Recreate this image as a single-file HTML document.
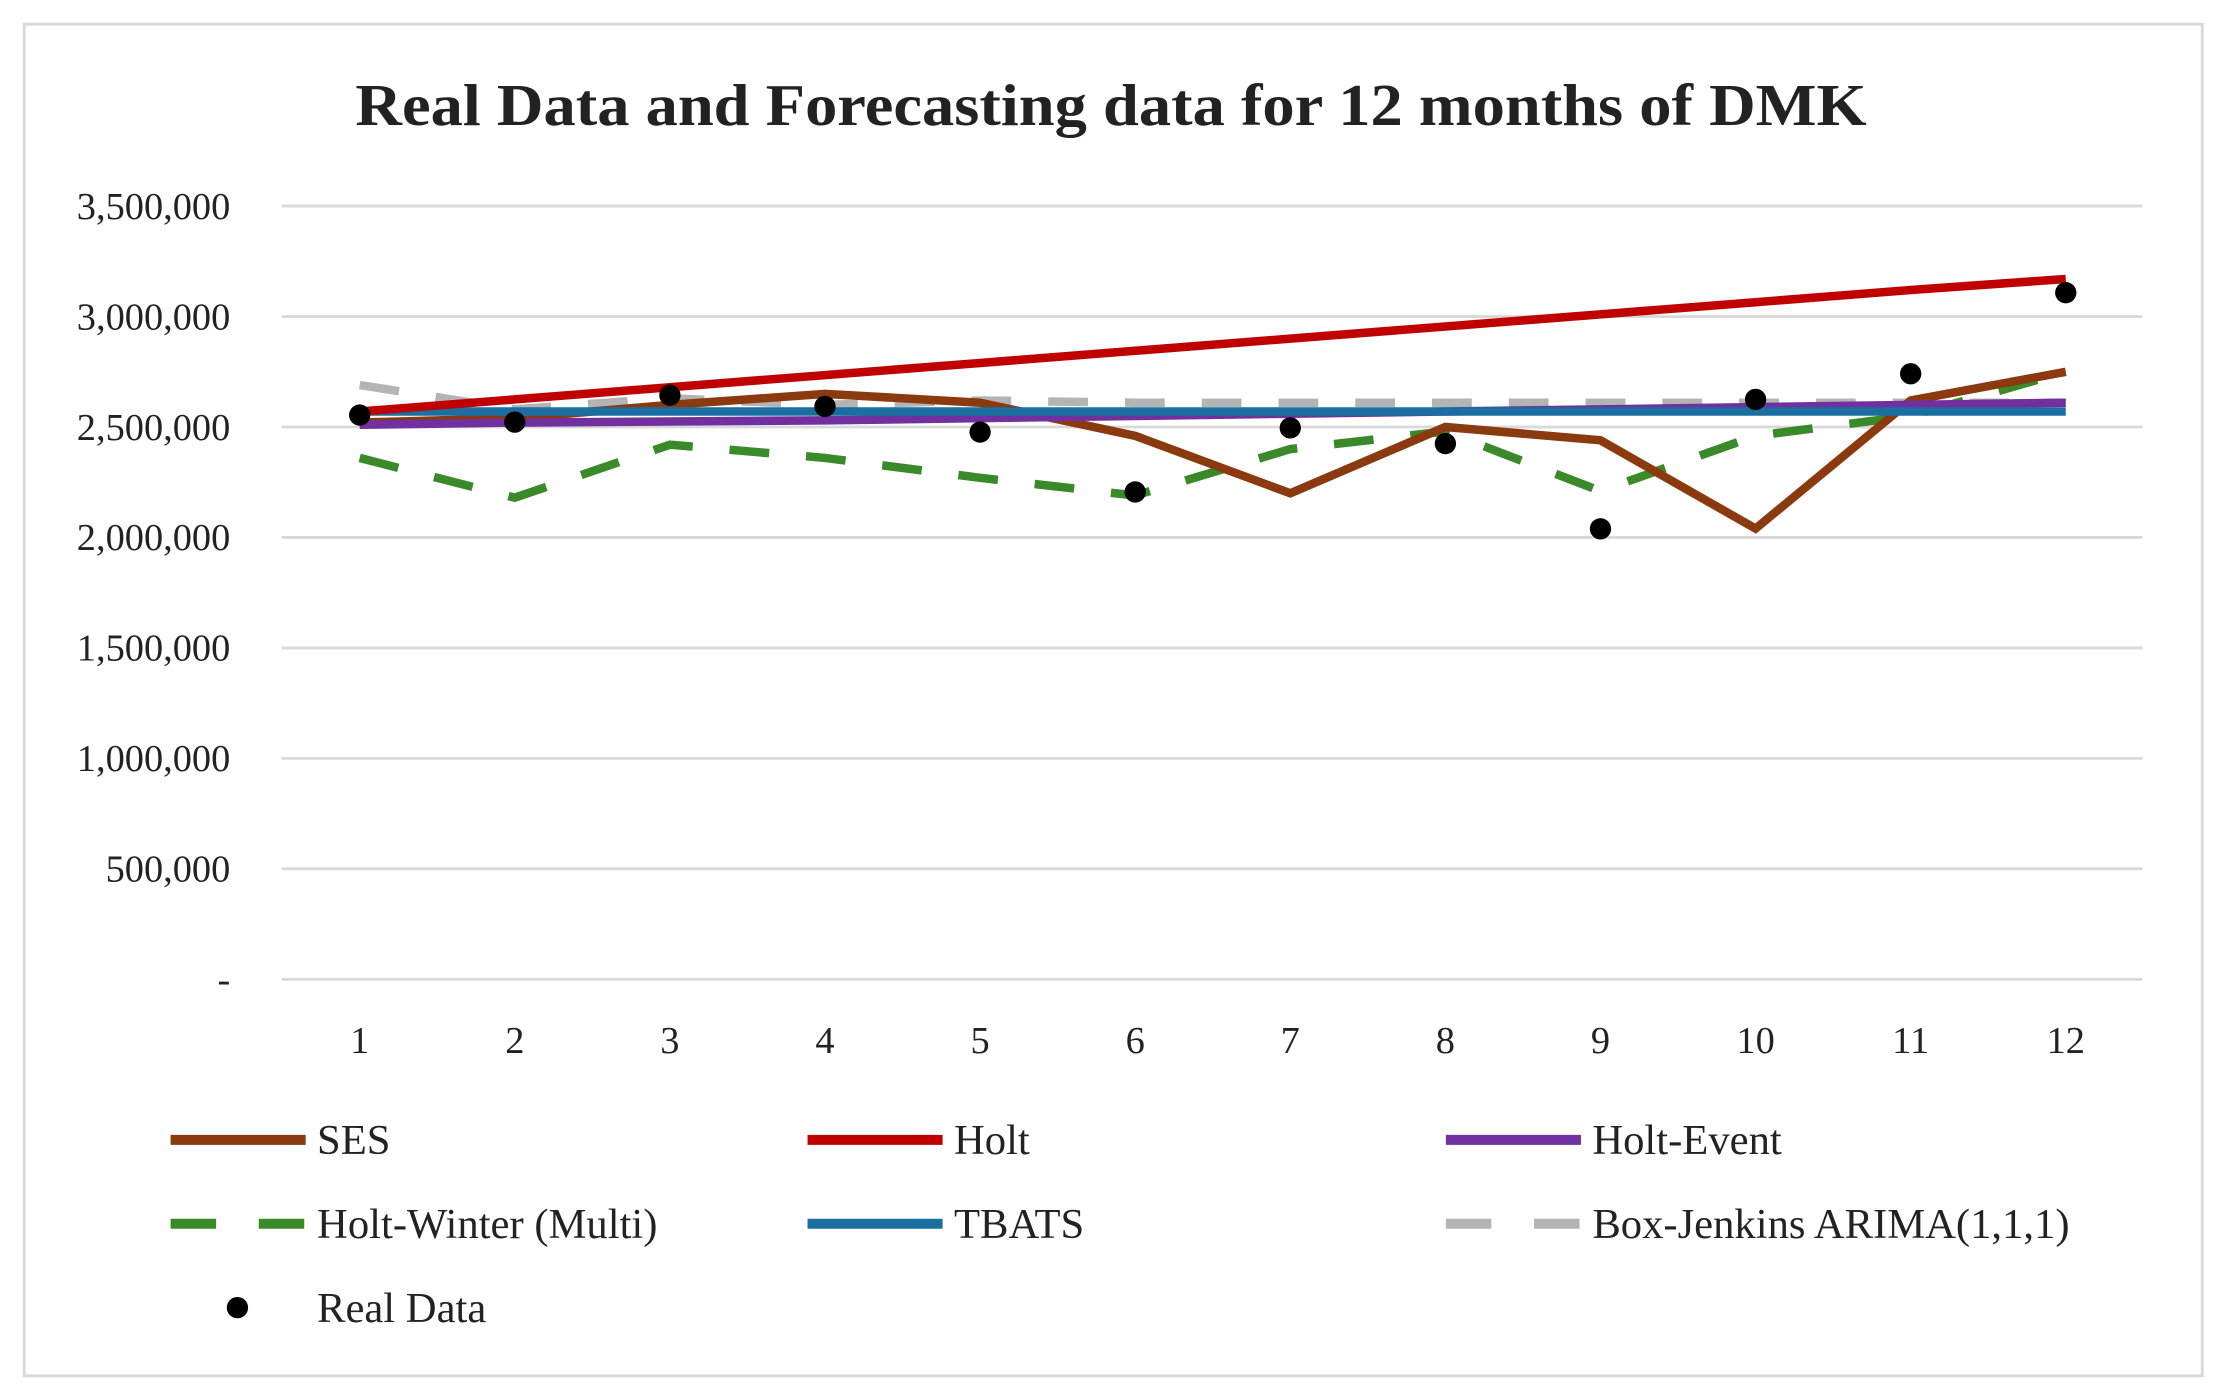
<!DOCTYPE html>
<html><head><meta charset="utf-8"><style>
html,body{margin:0;padding:0;background:#fff;}
svg{display:block;}
text{font-family:"Liberation Serif",serif;fill:#222;}
</style></head><body>
<svg id="chart" width="2225" height="1400" viewBox="0 0 1565 985" preserveAspectRatio="none" xmlns="http://www.w3.org/2000/svg">
<rect x="17" y="17" width="1532" height="951" fill="#fff" stroke="#d9d9d9" stroke-width="2"/>
<text x="250" y="88" textLength="1063" lengthAdjust="spacingAndGlyphs" font-size="42" font-weight="bold">Real Data and Forecasting data for 12 months of DMK</text>
<g id="grid"></g><g id="series"></g><g id="legend"></g>
</svg>
<script>
const months=[1,2,3,4,5,6,7,8,9,10,11,12];
const yTicks=[0,500000,1000000,1500000,2000000,2500000,3000000,3500000];
const yTickLabels=["-","500,000","1,000,000","1,500,000","2,000,000","2,500,000","3,000,000","3,500,000"];
const ses=[2520000,2540000,2600000,2650000,2610000,2460000,2200000,2500000,2440000,2040000,2620000,2750000];
const holt=[2570000,2625000,2680000,2735000,2790000,2845000,2900000,2955000,3010000,3065000,3120000,3170000];
const holtEvent=[2510000,2520000,2525000,2530000,2540000,2550000,2560000,2570000,2580000,2590000,2600000,2610000];
const holtWinter=[2360000,2180000,2420000,2360000,2270000,2190000,2400000,2480000,2210000,2460000,2550000,2750000];
const tbats=[2570000,2570000,2570000,2570000,2570000,2570000,2570000,2570000,2570000,2570000,2570000,2570000];
const arima=[2690000,2580000,2630000,2600000,2620000,2610000,2610000,2610000,2610000,2610000,2610000,2610000];
const realData=[2554000,2522000,2644000,2593000,2477000,2206000,2496000,2425000,2039000,2625000,2741000,3108000];

const NS="http://www.w3.org/2000/svg";
const x=m=>253+(m-1)*(1453-253)/11;
const y=v=>689-v*(689-145)/3500000;
function mk(tag,attrs,parent){const e=document.createElementNS(NS,tag);for(const k in attrs)e.setAttribute(k,attrs[k]);parent.appendChild(e);return e;}
const grid=document.getElementById('grid'),ser=document.getElementById('series'),leg=document.getElementById('legend');
yTicks.forEach((t,i)=>{
  const l=mk('line',{x1:198,x2:1507,y1:y(t),y2:y(t),stroke:'#d9d9d9','stroke-width':2},grid);
  
  
  const tx=mk('text',{x:162,y:y(t)+9,'text-anchor':'end','font-size':27},grid);
  tx.textContent=yTickLabels[i];
  
  
});
months.forEach(m=>{
  const tx=mk('text',{x:x(m),y:741,'text-anchor':'middle','font-size':27},grid);
  tx.textContent=m;
  
  
});
const defs=[
 {d:ses,c:'#8b3a0f',dash:null,name:'SES'},
 {d:holt,c:'#c00000',dash:null,name:'Holt'},
 {d:holtEvent,c:'#7030a0',dash:null,name:'Holt-Event'},
 {d:holtWinter,c:'#3a8a2a',dash:'28 26',name:'Holt-Winter (Multi)'},
 {d:tbats,c:'#1a6fa0',dash:null,name:'TBATS'},
 {d:arima,c:'#b4b4b4',dash:'28 26',name:'Box-Jenkins ARIMA(1,1,1)'}
];
const order=[3,5,0,2,4,1];
order.forEach(i=>{
  const s=defs[i];
  const p=mk('polyline',{points:s.d.map((v,j)=>x(months[j])+','+y(v)).join(' '),fill:'none',stroke:s.c,'stroke-width':6},ser);
  if(s.dash)p.setAttribute('stroke-dasharray',s.dash);
  
  
});
realData.forEach((v,j)=>{
  const c=mk('circle',{cx:x(months[j]),cy:y(v),r:7.5,fill:'#000'},ser);
  
  
});
const lx=[120,568,1017],ly=[802,861];
defs.forEach((s,i)=>{
  const cx=lx[i%3],cy=ly[Math.floor(i/3)];
  const l=mk('line',{x1:cx,x2:cx+95,y1:cy,y2:cy,stroke:s.c,'stroke-width':7},leg);
  if(s.dash)l.setAttribute('stroke-dasharray','32 30');
  
  
  const t=mk('text',{x:cx+103,y:cy+10,'font-size':30},leg);
  t.textContent=s.name;
  
  
});
const dc=mk('circle',{cx:167,cy:920,r:7.5,fill:'#000'},leg);


const dt=mk('text',{x:223,y:930,'font-size':30},leg);
dt.textContent='Real Data';


</script>
</body></html>
